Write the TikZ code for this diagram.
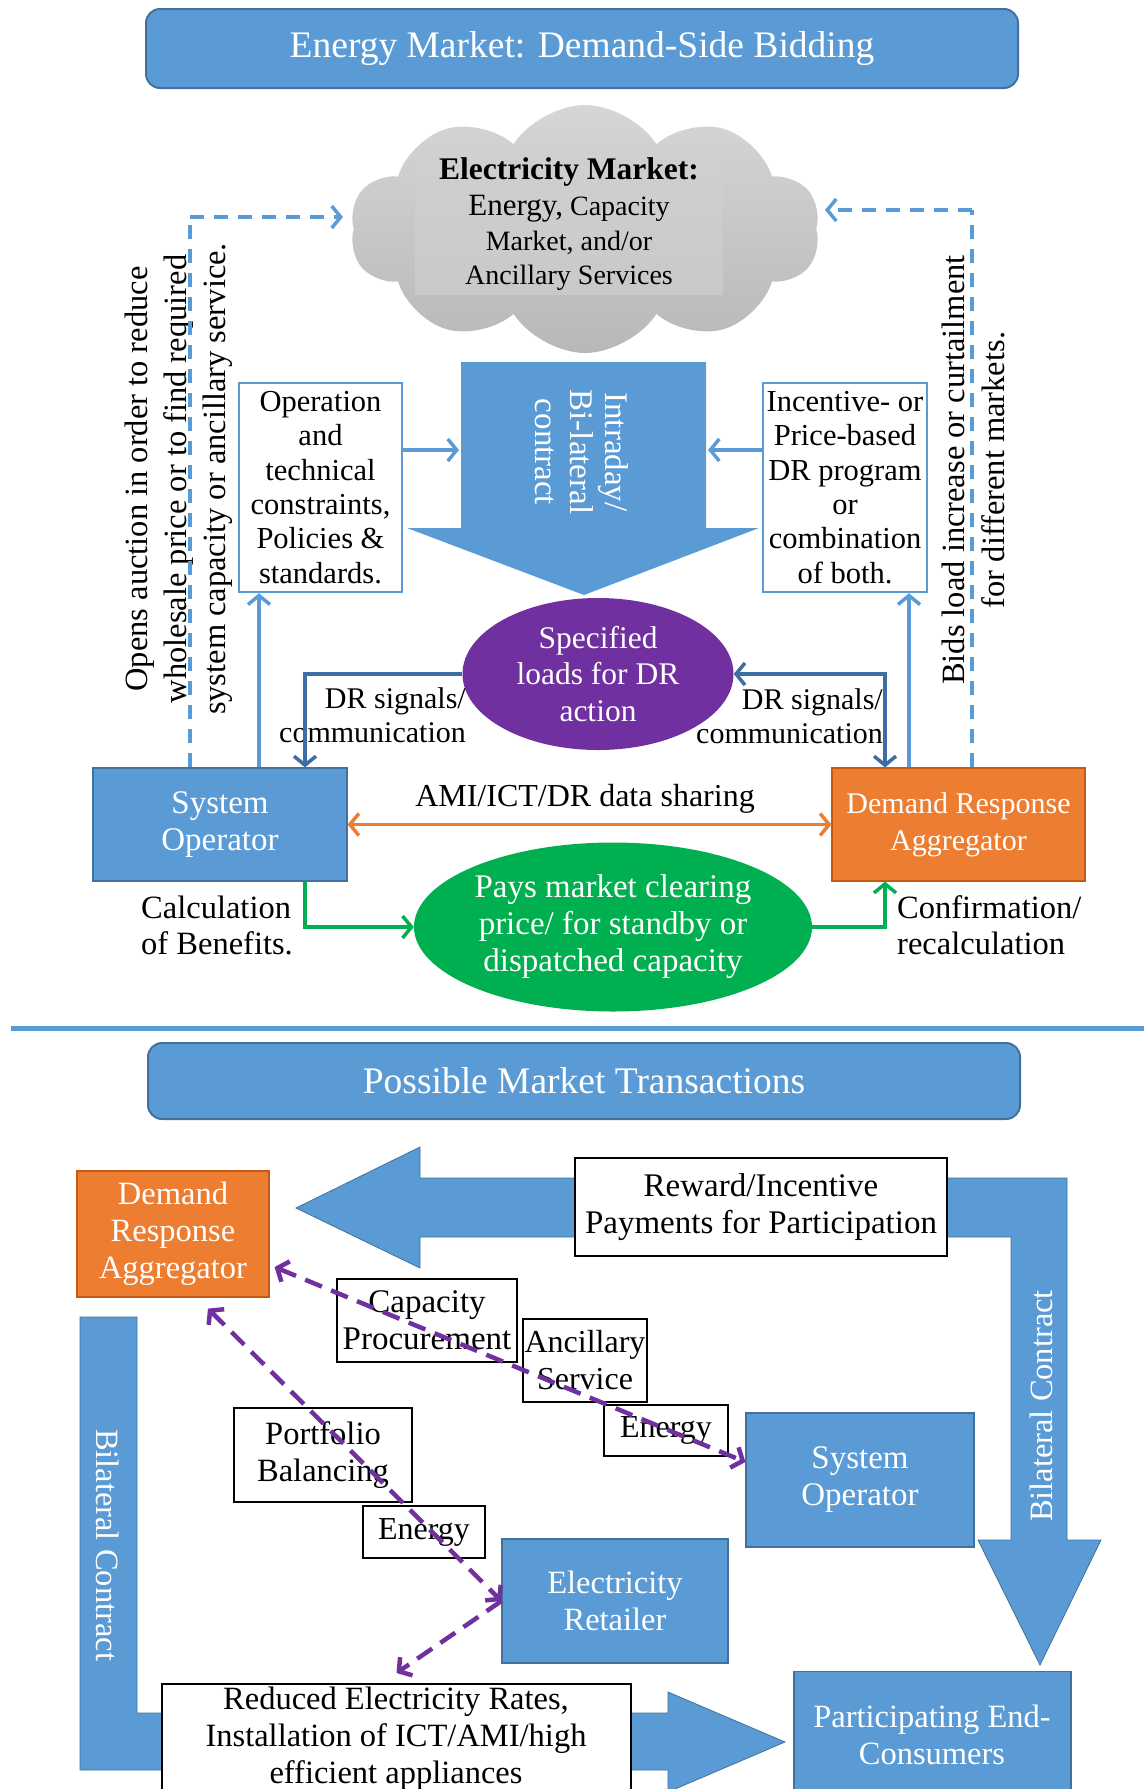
\documentclass[tikz,border=0pt]{standalone}
\usepackage{fontspec}
\setmainfont{Liberation Serif}
\usetikzlibrary{shapes.symbols,shapes.geometric,arrows.meta}
\definecolor{cblue}{HTML}{5B9BD5}
\definecolor{cbluedark}{HTML}{41719C}
\definecolor{cdr}{HTML}{3C6DA3}
\definecolor{corange}{HTML}{ED7D31}
\definecolor{corangedark}{HTML}{C55A11}
\definecolor{cgreen}{HTML}{00B050}
\definecolor{cpurple}{HTML}{7030A0}
\definecolor{cgraytop}{HTML}{D6D6D6}
\definecolor{cgraybot}{HTML}{B8B8B8}
\definecolor{cgraylight}{HTML}{D0D0D0}
\begin{document}
\begin{tikzpicture}[x=1pt,y=-1pt,
  txt/.style={font=\fontsize{32.5}{37}\selectfont},
  titlebox/.style={rounded corners=14pt, fill=cblue, draw=cbluedark, line width=2pt, text=white, inner sep=0pt, font=\fontsize{37.5}{40}\selectfont},
  framebox/.style={draw=cblue, line width=2.5pt, fill=white, inner sep=0pt, align=center, font=\fontsize{30.5}{34.4}\selectfont},
  wbox/.style={draw=black, line width=2pt, fill=white, inner sep=0pt, align=center, txt},
  bbox/.style={fill=cblue, draw=cbluedark, line width=1.2pt, text=white, inner sep=0pt, align=center, txt},
  obox/.style={fill=corange, draw=corangedark, line width=1.2pt, text=white, inner sep=0pt, align=center, txt},
  barb/.style={-{Straight Barb[length=9pt,width=22pt]}},
  dbarb/.style={{Straight Barb[length=9pt,width=22pt]}-{Straight Barb[length=9pt,width=22pt]}},
  bluearr/.style={draw=cblue, line width=3.5pt},
  bluedash/.style={draw=cblue, line width=3.5pt, dash pattern=on 14pt off 10pt},
  drarr/.style={draw=cdr, line width=3.5pt},
  garr/.style={draw=cgreen, line width=3.5pt},
  oarr/.style={draw=corange, line width=3.5pt},
  parr/.style={draw=cpurple, line width=4.5pt, dash pattern=on 18pt off 10pt},
  bandshape/.style={fill=cblue, draw=cbluedark, line width=0.8pt},
  vtext/.style={rotate=90, align=center, inner sep=0pt}
]
\useasboundingbox (0,0) rectangle (1144,1789);
\clip (0,0) rectangle (1144,1789);

% ---------------- Upper part ----------------
\node[titlebox, minimum width=872pt, minimum height=79pt] (t1) at (582,48.5) {Energy Market: Demand-Side Bidding};

\node[cloud, cloud puffs=10, cloud puff arc=115, cloud ignores aspect, top color=cgraytop, bottom color=cgraybot, draw=none,
      minimum width=470pt, minimum height=248pt, inner sep=0pt] (cloud) at (585,229) {};
\fill[cgraylight, opacity=0.6] (415,148) rectangle (723,295);
\node[align=center, inner sep=0pt, font=\fontsize{28}{34.5}\selectfont] (cloudtxt) at (569,224)
  {{\fontsize{31.5}{34.5}\selectfont\bfseries Electricity Market:}\\[2pt]
   {\fontsize{31}{34.5}\selectfont Energy,} Capacity\\ Market, and/or\\ Ancillary Services};

\node[vtext, font=\fontsize{32.5}{39}\selectfont] (auction) at (179,479)
  {Opens auction in order to reduce\\wholesale price or to find required\\system capacity or ancillary service.};
\node[vtext, font=\fontsize{32.5}{40}\selectfont] (bids) at (973,470)
  {Bids load increase or curtailment\\for different markets.};

\node[framebox, minimum width=163pt, minimum height=209pt] (opbox) at (320.5,487.5)
  {Operation\\and\\technical\\constraints,\\Policies \&\\standards.};
\node[framebox, minimum width=164pt, minimum height=209pt] (incbox) at (845,487.5)
  {Incentive- or\\Price-based\\DR program\\or\\combination\\of both.};

% big down arrow
\fill[cblue] (461,362) -- (706,362) -- (706,528) -- (759,528) -- (584,595) -- (407,528) -- (461,528) -- cycle;
\node[rotate=-90, align=center, text=white, inner sep=0pt, font=\fontsize{33}{35}\selectfont] (intra) at (582,452)
  {Intraday/\\Bi-lateral\\contract};
\coordinate (baL) at (459,450);
\coordinate (baR) at (708,450);

\node[ellipse, fill=cpurple, text=white, minimum width=271pt, minimum height=152pt, inner sep=0pt, align=center,
      font=\fontsize{31.5}{36.5}\selectfont] (purple) at (598,674) {Specified\\loads for DR\\action};

\node[bbox, minimum width=254pt, minimum height=113pt, font=\fontsize{33}{37}\selectfont] (so) at (220,824.5) {System\\Operator};
\node[obox, minimum width=253pt, minimum height=113pt, font=\fontsize{30}{37}\selectfont] (dra) at (958.5,824.5) {Demand Response\\Aggregator};

\node[ellipse, fill=cgreen, text=white, minimum width=398pt, minimum height=169pt, inner sep=0pt, align=center,
      font=\fontsize{33}{37}\selectfont] (green) at (613,927) {Pays market clearing\\price/ for standby or\\dispatched capacity};

% labels
\node[align=right, anchor=east, inner sep=0pt, font=\fontsize{30}{34}\selectfont] (drlL) at (466,715) {DR signals/\\communication};
\node[align=right, anchor=east, inner sep=0pt, font=\fontsize{30}{34}\selectfont] (drlR) at (883,716) {DR signals/\\communication};
\node[inner sep=0pt, font=\fontsize{32}{36}\selectfont] (amilbl) at (585,799) {AMI/ICT/DR data sharing};
\node[align=left, anchor=west, inner sep=0pt, font=\fontsize{32.5}{36}\selectfont] (calc) at (141,925) {Calculation\\of Benefits.};
\node[align=left, anchor=west, inner sep=0pt, font=\fontsize{32.5}{36}\selectfont] (conf) at (897,925) {Confirmation/\\recalculation};

% connectors upper
\coordinate (cL) at (343,217);
\coordinate (cR) at (825,210);
\draw[bluedash] ([xshift=-30pt]so.north) -- ([xshift=-30pt]so.north |- cL);
\draw[bluedash, barb] ([xshift=-30pt]so.north |- cL) -- (cL);
\draw[bluedash] ([xshift=13.5pt]dra.north) -- ([xshift=13.5pt]dra.north |- cR);
\draw[bluedash, barb] ([xshift=13.5pt]dra.north |- cR) -- (cR);
\draw[bluearr, barb] ([xshift=39pt]so.north) -- ([xshift=39pt]so.north |- opbox.south);
\draw[bluearr, barb] ([xshift=-49.5pt]dra.north) -- ([xshift=-49.5pt]dra.north |- incbox.south);
\draw[bluearr, barb] (opbox.east |- baL) -- (baL);
\draw[bluearr, barb] (incbox.west |- baR) -- (baR);
\draw[drarr, barb] (purple.west) -| ([xshift=85pt]so.north);
\draw[drarr, dbarb] (purple.east) -| ([xshift=-73.5pt]dra.north);
\draw[oarr, dbarb] (so.east) -- (dra.west);
\draw[garr, barb] ([xshift=85pt]so.south) |- (green.west);
\draw[garr, barb] (green.east) -| ([xshift=-73.5pt]dra.south);

% separator
\draw[cblue, line width=5pt] (11,1028) -- (1144,1028);

% ---------------- Lower part ----------------
\node[titlebox, minimum width=872pt, minimum height=76pt] (t2) at (584,1081) {Possible Market Transactions};

% L-shaped arrow: reward (left) + bilateral (down)
\path[bandshape] (296,1208) -- (420,1147) -- (420,1178) -- (1067,1178) -- (1067,1540) -- (1101,1540)
  -- (1040,1665) -- (978,1540) -- (1011,1540) -- (1011,1237) -- (420,1237) -- (420,1268) -- cycle;
\node[rotate=90, text=white, inner sep=0pt, font=\fontsize{32.5}{36}\selectfont] (bilR) at (1041,1406) {Bilateral Contract};

% left L-shaped arrow
\path[bandshape] (80,1317) -- (137,1317) -- (137,1713) -- (668,1713) -- (668,1692) -- (785,1742)
  -- (668,1792) -- (668,1770) -- (80,1770) -- cycle;
\node[rotate=-90, text=white, inner sep=0pt, font=\fontsize{32.5}{36}\selectfont] (bilL) at (108,1545) {Bilateral Contract};

\node[obox, minimum width=192pt, minimum height=126pt] (dra2) at (173,1234) {Demand\\Response\\Aggregator};
\node[wbox, minimum width=372pt, minimum height=98pt, font=\fontsize{33}{37}\selectfont] (reward) at (761,1207) {Reward/Incentive\\Payments for Participation};

\node[wbox, minimum width=180pt, minimum height=83pt, font=\fontsize{33}{37}\selectfont] (capb) at (427,1320.5) {Capacity\\Procurement};
\node[wbox, minimum width=124pt, minimum height=83pt, font=\fontsize{32}{37}\selectfont] (ancb) at (585,1360.5) {Ancillary\\Service};
\node[wbox, minimum width=124pt, minimum height=51pt, font=\fontsize{32}{37}\selectfont] (en1) at (666,1430.5) {Energy};
\node[wbox, minimum width=178pt, minimum height=94pt, font=\fontsize{32.5}{37}\selectfont] (portb) at (323,1455) {Portfolio\\Balancing};
\node[wbox, minimum width=122pt, minimum height=52pt, font=\fontsize{32}{37}\selectfont] (en2) at (424,1532) {Energy};

\node[bbox, minimum width=228pt, minimum height=134pt, font=\fontsize{33}{37}\selectfont] (so2) at (860,1480) {System\\Operator};
\node[bbox, minimum width=226pt, minimum height=124pt] (ret) at (615,1601) {Electricity\\Retailer};
\node[bbox, minimum width=277pt, minimum height=150pt, anchor=north] (pec) at (932.5,1671) {};
\node[text=white, align=center, inner sep=0pt, txt] (pectxt) at (932,1735) {Participating End-\\Consumers};

\node[wbox, minimum width=469pt, minimum height=130pt, anchor=north] (red) at (396.5,1683) {};
\node[align=center, inner sep=0pt, txt] (redtxt) at (396,1739) {Reduced Electricity Rates,\\Installation of ICT/AMI/high\\efficient appliances};

% purple dashed connectors
\draw[parr, dbarb] ([xshift=5pt,yshift=-33pt]dra2.east) -- ([yshift=18pt]so2.west);
\draw[parr, dbarb] ([xshift=35pt,yshift=-11pt]dra2.south) -- (ret.west);
\draw[parr, barb] (ret.west) -- ([yshift=10pt]red.north);

\end{tikzpicture}
\end{document}
